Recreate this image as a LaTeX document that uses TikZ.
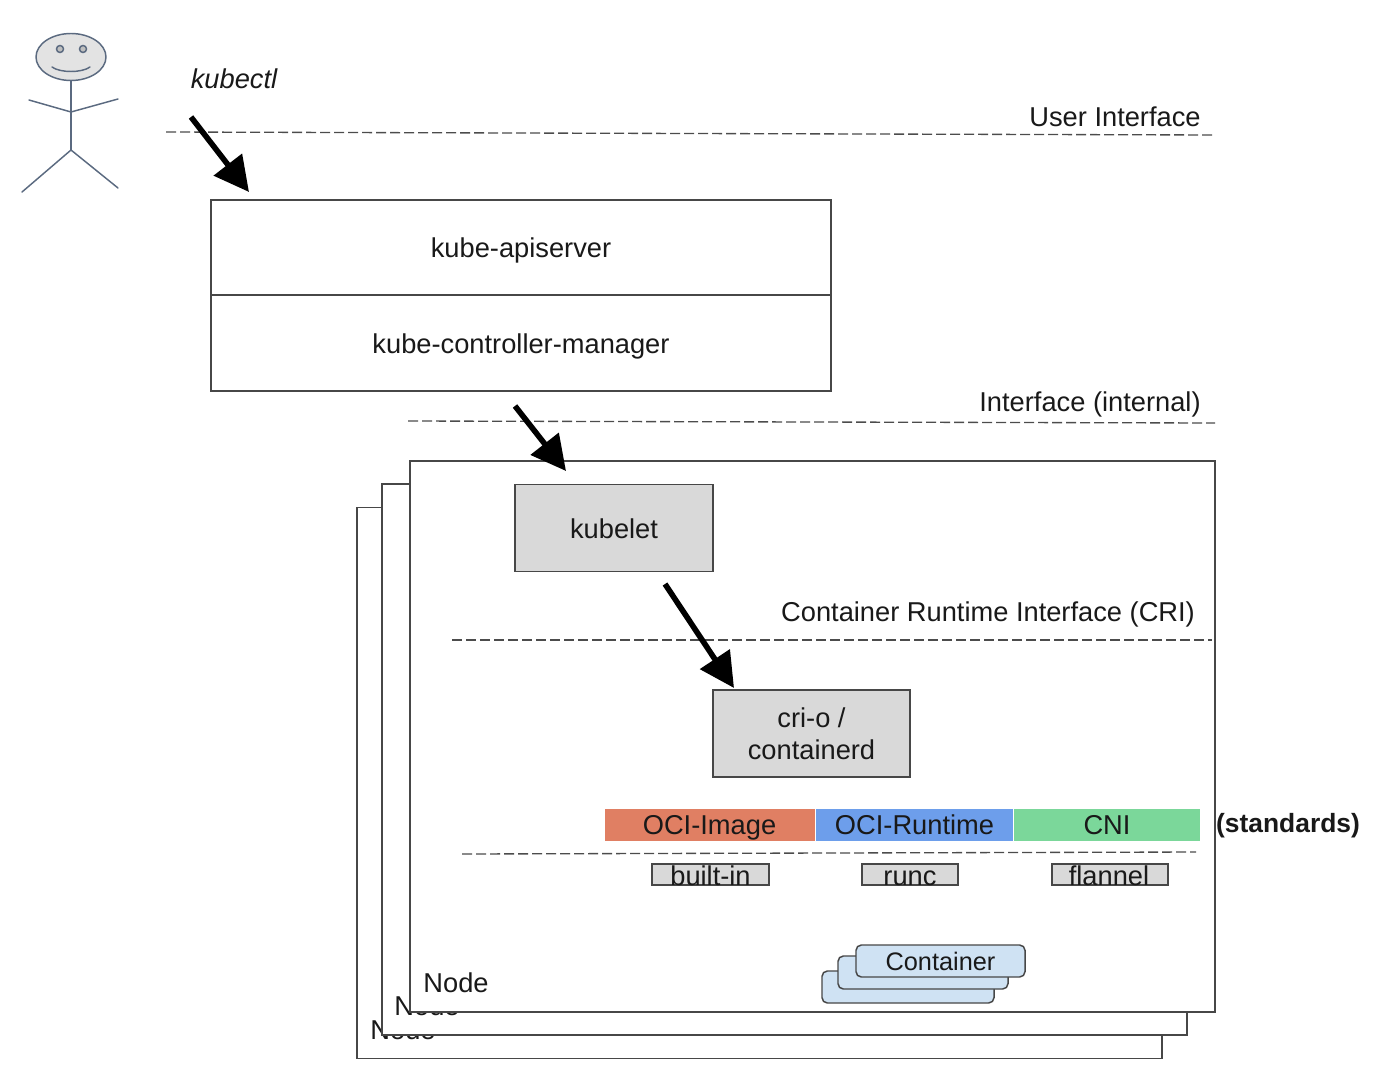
\documentclass[tikz,border=0pt]{standalone}
\usepackage{fontspec}
\setmainfont{Liberation Sans}
\usetikzlibrary{arrows.meta,shapes.geometric}
\def\u{0.75pt}
\tikzset{
  sketchtext/.style={font=\fontsize{20.45}{24}\selectfont,text=black!90,inner sep=0pt,align=center},
  oneline/.style={text height=16pt,text depth=4pt},
  lowline/.style={text height=17.5pt,text depth=2.5pt},
  barline/.style={text height=16.8pt,text depth=3.2pt},
  boxed/.style={draw=black!72,line width=1.1pt,inner sep=0pt,sketchtext},
  nodepanel/.style={boxed,fill=white,minimum width=805*\u,minimum height=551*\u},
  compbox/.style={boxed,fill=black!15},
  stdbar/.style={sketchtext,barline,minimum height=32*\u},
  implbox/.style={compbox,minimum height=21*\u},
  cbox/.style={boxed,fill=ctr,rounded corners=4pt,minimum height=32*\u},
  divider/.style={draw=black!70,line width=1pt,dash pattern=on 7.5pt off 3pt},
  bigarrow/.style={draw=black,line width=4.2pt,-{Triangle[length=26pt,width=26pt]},shorten >=0pt},
  stick/.style={draw=slateline,line width=1.1pt,line cap=round},
}
\definecolor{ctr}{HTML}{CFE2F3}
\definecolor{slateline}{HTML}{5B6A80}
\definecolor{ociimg}{HTML}{E07F63}
\definecolor{ocirun}{HTML}{6D9EEB}
\definecolor{cnibar}{HTML}{7BD79A}
\begin{document}
\begin{tikzpicture}[x=0.75pt,y=-0.75pt]
\useasboundingbox (0,0) rectangle (1376,1074);
% stick figure
\node[stick,fill=black!11,ellipse,minimum width=70*\u,minimum height=47*\u,inner sep=0pt] (head) at (71,57) {};
\node[stick,fill=black!25,circle,minimum size=7*\u,inner sep=0pt] (eyeL) at (60,49) {};
\node[stick,fill=black!25,circle,minimum size=7*\u,inner sep=0pt] (eyeR) at (83,49) {};
\coordinate (shoulder) at (71,112);
\coordinate (hip) at (71,150);
\coordinate (handL) at (29,100);
\coordinate (handR) at (118,99);
\coordinate (footL) at (22,192);
\coordinate (footR) at (118,188);
\coordinate (smileL) at (52,67);
\coordinate (smileR) at (90,67);
\draw[stick] (smileL) .. controls (60,73) and (82,73) .. (smileR);
\draw[stick] (head.south) -- (hip);
\draw[stick] (handL) -- (shoulder) -- (handR);
\draw[stick] (footL) -- (hip) -- (footR);
\node[sketchtext,oneline,font=\fontsize{20.45}{24}\selectfont\itshape] (kubectl) at (234,81) {kubectl};
% node panels
\node[nodepanel] (panelC) at (759.5,783) {};
\node[sketchtext,oneline] (nodeC) at (403,1031) {Node};
\node[nodepanel] (panelB) at (784.5,759.5) {};
\node[sketchtext,oneline] (nodeB) at (427,1007) {Node};
\node[nodepanel] (panelA) at (812.5,736.5) {};
\node[sketchtext,oneline] (nodeA) at (456,984) {Node};
% control plane
\node[boxed,lowline,minimum width=620*\u,minimum height=95*\u] (api) at (521,247.5) {kube-apiserver};
\node[boxed,lowline,minimum width=620*\u,minimum height=96*\u] (ctrl) at (521,343) {kube-controller-manager};
% components
\node[compbox,lowline,minimum width=198*\u,minimum height=87*\u] (kubelet) at (614,528) {kubelet};
\node[compbox,minimum width=197*\u,minimum height=87*\u] (crio) at (811.5,733.5) {cri-o /\\containerd};
% standards
\node[stdbar,fill=ociimg,minimum width=210*\u] (oci) at (709.5,825) {OCI-Image};
\node[stdbar,fill=ocirun,minimum width=197*\u] (ocir) at (914.5,825) {OCI-Runtime};
\node[stdbar,fill=cnibar,minimum width=186*\u] (cni) at (1107,825) {CNI};
\node[sketchtext,oneline,font=\fontsize{19.8}{24}\selectfont\bfseries] (std) at (1288,824) {(standards)};
% implementations
\node[implbox,minimum width=117*\u] (builtin) at (710.5,874.5) {};
\node[implbox,minimum width=96*\u] (runc) at (910,874.5) {};
\node[implbox,minimum width=116*\u] (flannel) at (1110,874.5) {};
\node[sketchtext,oneline] (builtinT) at (710.5,877) {built-in};
\node[sketchtext,oneline] (runcT) at (910,877) {runc};
\node[sketchtext,oneline] (flannelT) at (1109,877) {flannel};
% containers
\node[cbox,minimum width=172*\u] (c3) at (908,987) {};
\node[cbox,minimum width=170*\u,minimum height=33*\u] (c2) at (923,972.5) {};
\node[cbox,barline,minimum width=169*\u] (c1) at (940.5,961) {\fontsize{19}{22}\selectfont Container};
% dividers
\coordinate (d1a) at (166,132); \coordinate (d1b) at (1214,135);
\coordinate (d2a) at (408,421); \coordinate (d2b) at (1215,423);
\coordinate (d3a) at (452,640); \coordinate (d3b) at (1212,640);
\coordinate (d4a) at (462,854); \coordinate (d4b) at (1196,852);
\draw[divider] (d1a) -- (d1b);
\draw[divider] (d2a) -- (d2b);
\draw[divider] (d3a) -- (d3b);
\draw[divider] (d4a) -- (d4b);
\node[sketchtext,oneline] (ui) at (1115,118) {User Interface};
\node[sketchtext,oneline] (ii) at (1090,403) {Interface (internal)};
\node[sketchtext,oneline] (cri) at (988,613) {Container Runtime Interface (CRI)};
% arrows
\coordinate (a1s) at (191,117); \coordinate (a1e) at (249,192);
\coordinate (a2s) at (515,406); \coordinate (a2e) at (566,471);
\coordinate (a3s) at (665,584); \coordinate (a3e) at (734,688);
\draw[bigarrow] (a1s) -- (a1e);
\draw[bigarrow] (a2s) -- (a2e);
\draw[bigarrow] (a3s) -- (a3e);
\end{tikzpicture}
\end{document}
